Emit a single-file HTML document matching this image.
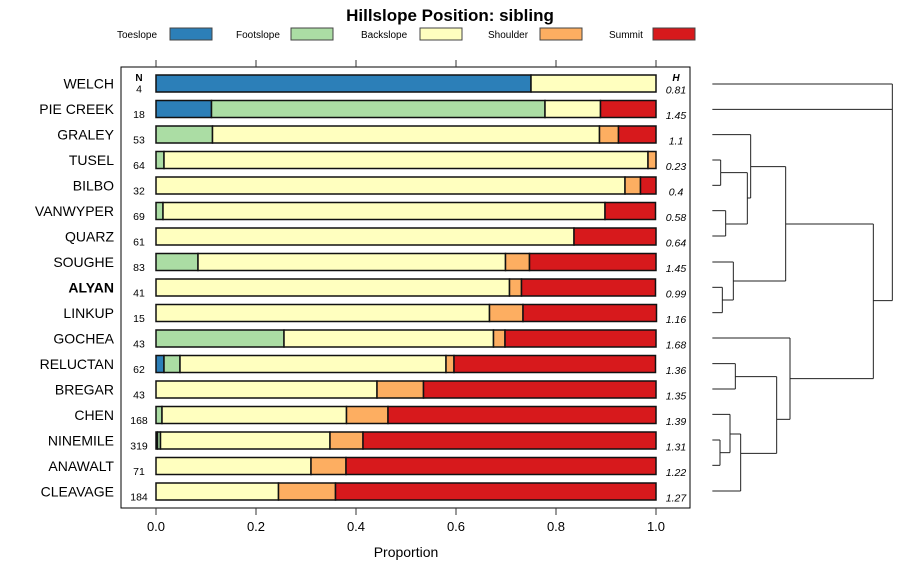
<!DOCTYPE html>
<html><head><meta charset="utf-8"><style>
html,body{margin:0;padding:0;background:#fff;}
svg{display:block;font-family:"Liberation Sans",sans-serif;}
</style></head><body>
<svg id="chart" width="900" height="580" viewBox="0 0 900 580" xmlns="http://www.w3.org/2000/svg">
<text x="450" y="21" text-anchor="middle" font-size="17" font-weight="bold">Hillslope Position: sibling</text>
<g id="legend"></g>
<rect x="121" y="67" width="569" height="441" fill="none" stroke="#000" stroke-width="1"/>
<g id="bars"></g>
<g id="axis"></g>
<text x="139" y="81" text-anchor="middle" font-size="10" font-weight="bold">N</text>
<text x="676" y="81" text-anchor="middle" font-size="10" font-weight="bold" font-style="italic">H</text>
<text x="406" y="557" text-anchor="middle" font-size="14">Proportion</text>
<g id="dendro" stroke="#222" stroke-width="1" fill="none"></g>
</svg>
<script>
const sites = ["WELCH","PIE CREEK","GRALEY","TUSEL","BILBO","VANWYPER","QUARZ","SOUGHE","ALYAN","LINKUP","GOCHEA","RELUCTAN","BREGAR","CHEN","NINEMILE","ANAWALT","CLEAVAGE"];
const nVals = [4,18,53,64,32,69,61,83,41,15,43,62,43,168,319,71,184];
const hVals = ["0.81","1.45","1.1","0.23","0.4","0.58","0.64","1.45","0.99","1.16","1.68","1.36","1.35","1.39","1.31","1.22","1.27"];
const classes = ["Toeslope","Footslope","Backslope","Shoulder","Summit"];
const toeslope = [0.75,0.111,0,0,0,0,0,0,0,0,0,0.016,0,0,0.003,0,0];
const footslope = [0,0.667,0.113,0.016,0,0.014,0,0.084,0,0,0.256,0.032,0,0.012,0.006,0,0];
const backslope = [0.25,0.111,0.774,0.968,0.938,0.884,0.836,0.615,0.707,0.667,0.419,0.532,0.442,0.369,0.339,0.31,0.245];
const shoulder = [0,0,0.038,0.016,0.031,0,0,0.048,0.024,0.067,0.023,0.016,0.093,0.083,0.066,0.07,0.114];
const summit = [0,0.111,0.075,0,0.031,0.101,0.164,0.253,0.268,0.267,0.302,0.403,0.465,0.536,0.586,0.62,0.641];
const xTicks = [0,0.2,0.4,0.6,0.8,1.0];
const xTickLabels = ["0.0","0.2","0.4","0.6","0.8","1.0"];

const colors = ["#2c7fb8","#abdda4","#ffffbf","#fdae61","#d7191c"];
const series = [toeslope,footslope,backslope,shoulder,summit];
const NS = "http://www.w3.org/2000/svg";
const xScale = v => 156 + v*500;
const yScale = i => 83.5 + i*25.5;
function mk(tag, attrs, parent){const e=document.createElementNS(NS,tag);for(const k in attrs)e.setAttribute(k,attrs[k]);parent.appendChild(e);return e;}

// legend
const leg = document.getElementById('legend');
const legX = [117,236,361,488,609], boxX=[170,291,420,540,653];
classes.forEach((c,i)=>{
  const t = mk('text',{x:legX[i],y:38,'font-size':10},leg);
  t.textContent=c;
  
  
  const r = mk('rect',{x:boxX[i],y:28,width:42,height:12,fill:colors[i],stroke:'#444','stroke-width':1},leg);
  
  
});

// bars
const bars = document.getElementById('bars');
sites.forEach((s,i)=>{
  const y = yScale(i);
  const lab = mk('text',{x:114,y:y+5,'text-anchor':'end','font-size':14,'font-weight':s==="ALYAN"?'bold':'normal'},bars);
  lab.textContent=s;
  
  
  const n = mk('text',{x:139,y:y+9,'text-anchor':'middle','font-size':10.5},bars);
  n.textContent=nVals[i];
  
  
  const h = mk('text',{x:676,y:y+10,'text-anchor':'middle','font-size':10.5,'font-style':'italic'},bars);
  h.textContent=hVals[i];
  
  
  let cum=0;
  series.forEach((arr,k)=>{
    const v=arr[i];
    if(v>0){
      const r = mk('rect',{x:xScale(cum),y:y-8.5,width:xScale(cum+v)-xScale(cum),height:17,fill:colors[k],stroke:'#111','stroke-width':1.5},bars);
      
      
    }
    cum+=v;
  });
});

// axis ticks
const ax = document.getElementById('axis');
xTicks.forEach((v,i)=>{
  const x=xScale(v);
  const t1 = mk('line',{x1:x,x2:x,y1:60,y2:67,stroke:'#333'},ax);
  
  
  const t2 = mk('line',{x1:x,x2:x,y1:508,y2:515,stroke:'#333'},ax);
  
  
  const l = mk('text',{x:x,y:531,'text-anchor':'middle','font-size':13},ax);
  l.textContent=xTickLabels[i];
  
  
});

// dendrogram (zoom coords -> original)
const dz = [
 [[67,72],[607,72]],[[67,148],[607,148]],[[607,72],[607,722]],
 [[67,224],[182,224]],[[182,224],[182,414]],[[172,414],[182,414]],
 [[67,300],[92,300]],[[67,376],[92,376]],[[92,300],[92,338]],[[92,338],[92,376]],[[92,338],[172,338]],
 [[67,452],[107,452]],[[67,528],[107,528]],[[107,452],[107,528]],[[107,492],[172,492]],[[172,338],[172,492]],
 [[182,320],[287,320]],[[287,320],[287,663]],
 [[67,606],[130,606]],[[130,606],[130,720]],[[130,663],[287,663]],
 [[67,682],[97,682]],[[67,758],[97,758]],[[97,682],[97,758]],[[97,720],[130,720]],
 [[287,492],[550,492]],[[550,492],[550,956]],[[550,722],[607,722]],
 [[67,834],[300,834]],[[300,834],[300,1078]],[[300,956],[550,956]],
 [[67,911],[136,911]],[[67,987],[136,987]],[[136,911],[136,987]],[[136,950],[260,950]],[[260,950],[260,1180]],[[260,1078],[300,1078]],
 [[67,1063],[120,1063]],[[120,1063],[120,1178]],[[120,1122],[152,1122]],
 [[67,1140],[90,1140]],[[67,1216],[90,1216]],[[90,1140],[90,1216]],[[90,1178],[120,1178]],
 [[67,1293],[152,1293]],[[152,1122],[152,1293]],[[152,1180],[260,1180]]
];
const dg=document.getElementById('dendro');
dz.forEach(s=>{
  const l=mk('line',{x1:690+s[0][0]/3,y1:60+s[0][1]/3,x2:690+s[1][0]/3,y2:60+s[1][1]/3},dg);
  
  
});
</script>
</body></html>
